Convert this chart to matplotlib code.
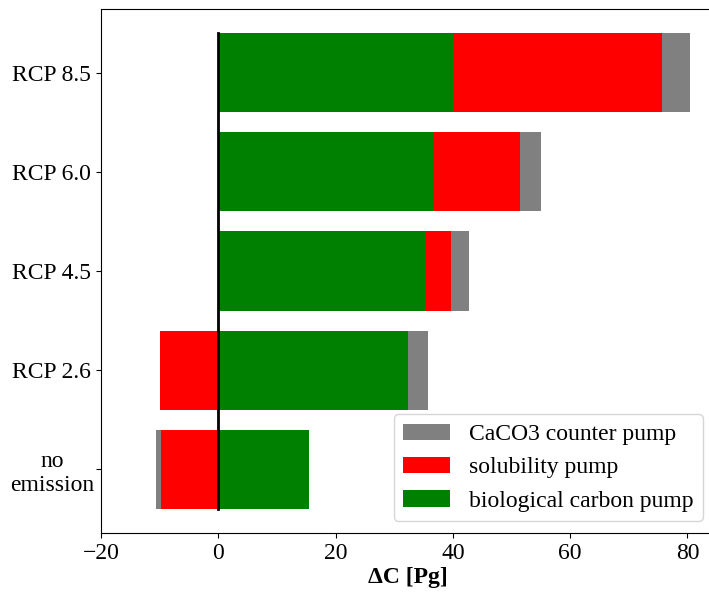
import numpy as np
import matplotlib
matplotlib.use('Agg')
import matplotlib.pyplot as plt

plt.rcParams['font.family'] = ['Liberation Serif', 'DejaVu Serif']

#data
scenarios = ['no\nemission', 'RCP 2.6', 'RCP 4.5', 'RCP 6.0', 'RCP 8.5']
bio = [15.4, 32.3, 35.2, 36.7, 40.0]
sol = [-9.75, -9.9, 4.5, 14.7, 35.7]
caco3 = [-0.85, 3.5, 3.0, 3.6, 4.8]

fig = plt.figure(figsize=(7.09, 5.93), dpi=100)
ax = fig.add_axes([101/709, 1-533/593, (715-101)/709, (533-9)/593])

y = np.arange(len(scenarios))
pos = np.zeros(len(scenarios))
neg = np.zeros(len(scenarios))
handles = []
for vals, col, lab in [(bio, 'green', 'biological carbon pump'),
                       (sol, 'red', 'solubility pump'),
                       (caco3, 'gray', 'CaCO3 counter pump')]:
    vals = np.array(vals)
    left = np.where(vals >= 0, pos, neg)
    h = ax.barh(y, vals, left=left, height=0.8, color=col, label=lab)
    handles.append(h)
    pos = pos + np.clip(vals, 0, None)
    neg = neg + np.clip(vals, None, 0)

ax.plot([0, 0], [-0.4, 4.4], color='k', lw=2)

fs = 17
ax.set_yticks(y)
ax.set_yticklabels(scenarios, fontsize=fs, ha='center', multialignment='center')
ax.tick_params(axis='y', pad=32)
ax.tick_params(axis='x', labelsize=fs)
ax.set_xlim(-20, 84.7)
ax.set_xlabel('ΔC [Pg]', fontsize=fs, fontweight='bold', labelpad=2)

ax.legend(handles[::-1], [h.get_label() for h in handles[::-1]],
          loc='lower right', fontsize=fs)

fig.savefig('out.png', dpi=100)
